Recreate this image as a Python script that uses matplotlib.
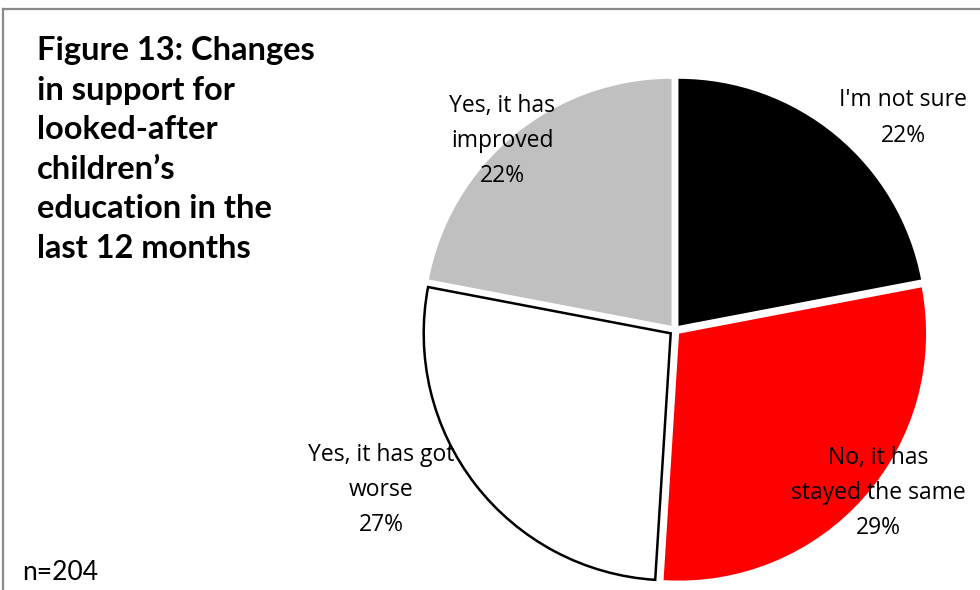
import matplotlib
matplotlib.use("Agg")
import matplotlib.pyplot as plt
from matplotlib.lines import Line2D

# Survey responses
categories = ["I'm not sure", "No, it has\nstayed the same", "Yes, it has got\nworse", "Yes, it has\nimproved"]
shares = [22, 29, 27, 22]
colors = ["#000000", "#ff0000", "#ffffff", "#c0c0c0"]
edge_colors = ["none", "none", "#000000", "none"]

# Label block centres in axis data units (pie radius = 1)
label_xy = [(0.925, 0.858), (0.822, -0.660), (-1.190, -0.648), (-0.700, 0.765)]

W, H = 980, 590
fig = plt.figure(figsize=(W / 100, H / 100), dpi=100)
fig.patch.set_facecolor("white")

R = 247.0
cx, cy = 675.0, 330.0
span = 1.1
ax_w = 2 * span * R
ax = fig.add_axes([(cx - span * R) / W, (H - cy - span * R) / H, ax_w / W, ax_w / H])

wedges, _ = ax.pie(shares, colors=colors, startangle=90, counterclock=False,
                   explode=[0.022] * len(shares), radius=1.0,
                   wedgeprops=dict(linewidth=1.8))
for w, ec in zip(wedges, edge_colors):
    w.set_edgecolor(ec)
    if ec == "none":
        w.set_linewidth(0)

ax.set_xlim(-span, span)
ax.set_ylim(-span, span)
ax.set_aspect("equal")
ax.axis("off")

for name, val, (lx, ly) in zip(categories, shares, label_xy):
    ax.text(lx, ly, f"{name}\n{val}%", ha="center", va="center",
            fontsize=16.5, family="Open Sans", linespacing=1.62, color="black",
            clip_on=False)

title = ("Figure 13: Changes\nin support for\nlooked-after\nchildren\u2019s\n"
         "education in the\nlast 12 months")
fig.text(37 / W, 1 - 36 / H, title, ha="left", va="top", fontsize=23.5,
         family="Lato", fontweight="bold", linespacing=1.44)

fig.text(22 / W, 1 - 572 / H, "n=204", ha="left", va="center", fontsize=19,
         family="Lato")

# Frame lines along the top and left edges
fig.add_artist(Line2D([3 / W, 1.0], [1 - 9 / H, 1 - 9 / H], color="#8a8a8a",
                      linewidth=1.6, transform=fig.transFigure))
fig.add_artist(Line2D([3 / W, 3 / W], [0.0, 1 - 9 / H], color="#8a8a8a",
                      linewidth=1.6, transform=fig.transFigure))

fig.savefig("out.png", dpi=100, facecolor="white")
